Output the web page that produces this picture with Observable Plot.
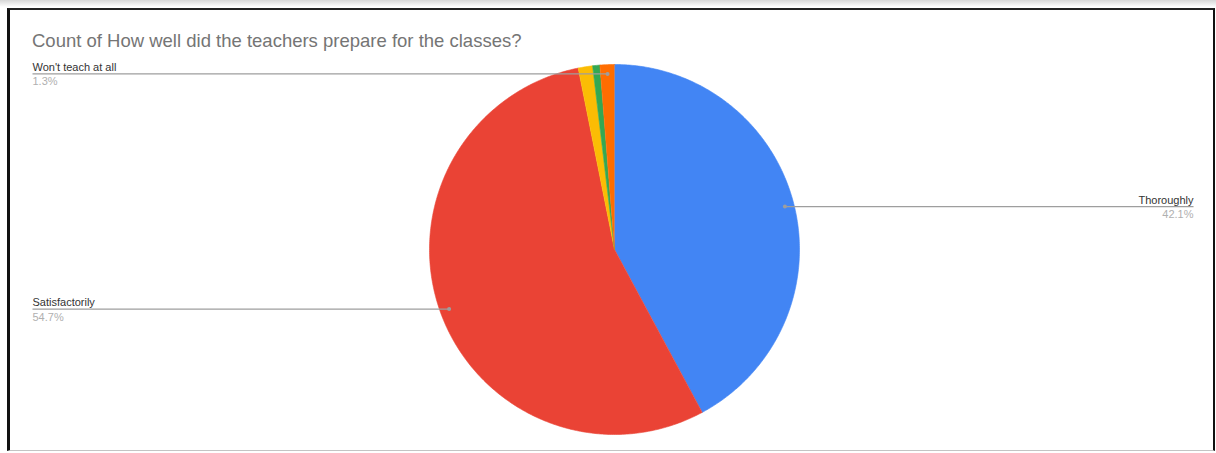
<!DOCTYPE html>
<html><head><meta charset="utf-8">
<script src="https://cdn.jsdelivr.net/npm/d3@7"></script>
<script src="https://cdn.jsdelivr.net/npm/@observablehq/plot@0.6"></script>
<style>
body{margin:0;background:#fff;}
#wrap{position:relative;width:1216px;height:453px;overflow:hidden;background:linear-gradient(#d6d6d6,#fff 7px);}
#frame{position:absolute;left:7px;top:8px;width:1208px;height:443px;box-sizing:border-box;border-left:3px solid #111;border-top:2px solid #222;border-right:2px solid #111;border-bottom:1px solid #c4c4c4;background:#fff;}
#title{position:absolute;left:32px;top:30px;font:18.5px "Liberation Sans",Arial,sans-serif;color:#757575;white-space:nowrap;}
#chart{position:absolute;left:0;top:0;}
</style></head><body>
<div id="wrap"><div id="frame"></div><div id="title">Count of How well did the teachers prepare for the classes?</div><div id="chart"></div></div>
<script>
// Data
const categories = ["Thoroughly", "Satisfactorily", "Poorly", "Not prepared", "Won't teach at all"];
const counts = [67, 87, 2, 1, 2];
const showLabel = [true, true, false, false, true];
const colors = ["#4285F4", "#EA4335", "#FBBC04", "#34A853", "#FF6D01"];

// Layout (pixels)
const W = 1216, H = 453, cx = 614, cy = 249, r = 185;
const leftLabelPx = 32, rightLabelPx = 1193;
const px2x = p => (p - cx) / r;

const total = d3.sum(counts);
const pct = d3.format(".1%");
const rows = categories.map((name, i) => ({name, count: counts[i], label: showLabel[i]}));
const arcs = d3.pie().sort(null).value(d => d.count)(rows);

// Slice polygons sampled from the computed angles
const poly = [];
arcs.forEach(a => {
  poly.push({name: a.data.name, x: 0, y: 0});
  const n = Math.max(2, Math.ceil((a.endAngle - a.startAngle) / 0.01));
  for (let k = 0; k <= n; k++) {
    const t = a.startAngle + (a.endAngle - a.startAngle) * k / n;
    poly.push({name: a.data.name, x: Math.sin(t), y: Math.cos(t)});
  }
});

// Leader-line labels
const labels = arcs.filter(a => a.data.label).map(a => {
  const m = (a.startAngle + a.endAngle) / 2;
  const x = 0.95 * Math.sin(m), y = 0.95 * Math.cos(m);
  const right = x > 0;
  return {
    name: a.data.name, pct: pct(a.data.count / total),
    x, y, right, lx: right ? px2x(rightLabelPx) : px2x(leftLabelPx)
  };
});

const font = "Liberation Sans, Arial, sans-serif";
const chart = Plot.plot({
  width: W, height: H, margin: 0,
  x: {domain: [-1, 1], range: [cx - r, cx + r], axis: null},
  y: {domain: [-1, 1], range: [cy + r, cy - r], axis: null},
  color: {domain: categories, range: colors},
  style: {background: "transparent", overflow: "visible", fontFamily: font},
  marks: [
    Plot.line(poly, {x: "x", y: "y", z: "name", fill: "name", stroke: "name", strokeWidth: 0.6, curve: "linear"}),
    Plot.link(labels, {x1: "x", y1: "y", x2: "lx", y2: "y", stroke: "#9e9e9e", strokeWidth: 1.3}),
    Plot.dot(labels, {x: "x", y: "y", r: 2, fill: "#9e9e9e"}),
    Plot.text(labels.filter(d => !d.right), {x: "lx", y: "y", text: "name", textAnchor: "start", lineAnchor: "middle", dy: -6.5, fontSize: 11, fill: "#333"}),
    Plot.text(labels.filter(d => !d.right), {x: "lx", y: "y", text: "pct", textAnchor: "start", lineAnchor: "middle", dy: 8, fontSize: 11, fill: "#b0b0b0"}),
    Plot.text(labels.filter(d => d.right), {x: "lx", y: "y", text: "name", textAnchor: "end", lineAnchor: "middle", dy: -6.5, fontSize: 11, fill: "#333"}),
    Plot.text(labels.filter(d => d.right), {x: "lx", y: "y", text: "pct", textAnchor: "end", lineAnchor: "middle", dy: 8, fontSize: 11, fill: "#b0b0b0"})
  ]
});
document.getElementById("chart").appendChild(chart);
</script>
</body></html>
